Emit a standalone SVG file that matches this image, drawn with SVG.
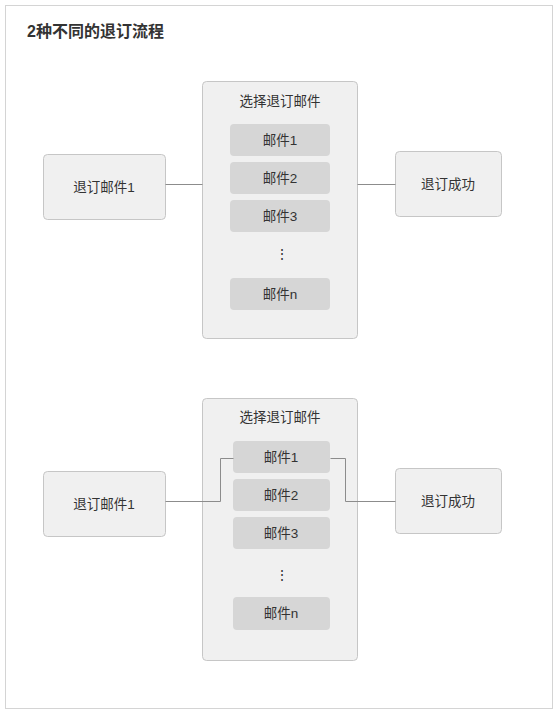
<svg xmlns="http://www.w3.org/2000/svg" width="557" height="714" viewBox="0 0 557 714">
<style>
text{font-family:"Liberation Sans","Noto Sans CJK SC",sans-serif;fill:#333;}
.t{font-size:13.5px;text-anchor:middle;}
.box{fill:#f0f0f0;stroke:#c6c6c6;stroke-width:1;}
.item{fill:#d6d6d6;}
.ln{fill:none;stroke:#8c8c8c;stroke-width:1;}
</style>
<rect x="5.5" y="5.5" width="547" height="703" fill="#fff" stroke="#d4d4d4"/>
<text x="27" y="37" style="font-size:16px;font-weight:bold">2种不同的退订流程</text>
<g id="flow1-start"><rect class="box" x="43.5" y="154.5" width="122" height="65" rx="4"/><text class="t" x="104" y="192">退订邮件1</text></g>
<g id="flow1-select">
<rect class="box" x="202.5" y="81.5" width="155" height="257" rx="4"/>
<text class="t" x="280" y="106">选择退订邮件</text>
<rect class="item" x="230" y="124" width="100" height="32" rx="4"/><text class="t" x="280" y="145">邮件1</text>
<rect class="item" x="230" y="162" width="100" height="32" rx="4"/><text class="t" x="280" y="183">邮件2</text>
<rect class="item" x="230" y="200" width="100" height="32" rx="4"/><text class="t" x="280" y="221">邮件3</text>
<text class="t" x="282" y="259">⋮</text>
<rect class="item" x="230" y="278" width="100" height="32" rx="4"/><text class="t" x="280" y="299">邮件n</text>
</g>
<g id="flow1-end"><rect class="box" x="395.5" y="151.5" width="106" height="65" rx="4"/><text class="t" x="448" y="189">退订成功</text></g>
<g id="flow2-start"><rect class="box" x="43.5" y="471.5" width="122" height="65" rx="4"/><text class="t" x="104" y="509">退订邮件1</text></g>
<g id="flow2-select">
<rect class="box" x="202.5" y="398.5" width="155" height="262" rx="4"/>
<text class="t" x="280" y="422">选择退订邮件</text>
<rect class="item" x="233" y="441" width="97" height="32" rx="4"/><text class="t" x="281" y="462">邮件1</text>
<rect class="item" x="233" y="479" width="97" height="32" rx="4"/><text class="t" x="281" y="500">邮件2</text>
<rect class="item" x="233" y="517" width="97" height="32" rx="4"/><text class="t" x="281" y="538">邮件3</text>
<text class="t" x="282" y="580">⋮</text>
<rect class="item" x="233" y="597" width="97" height="33" rx="4"/><text class="t" x="281" y="618">邮件n</text>
</g>
<g id="flow2-end"><rect class="box" x="395.5" y="468.5" width="106" height="65" rx="4"/><text class="t" x="448" y="506">退订成功</text></g>
<g id="connectors">
<path class="ln" d="M165.5 184.5H202.5"/>
<path class="ln" d="M357.5 184.5H395.5"/>
<path class="ln" d="M165.5 501.5H220.5V458.5H233.5"/>
<path class="ln" d="M330.5 458.5H345.5V501.5H395.5"/>
</g>
</svg>
